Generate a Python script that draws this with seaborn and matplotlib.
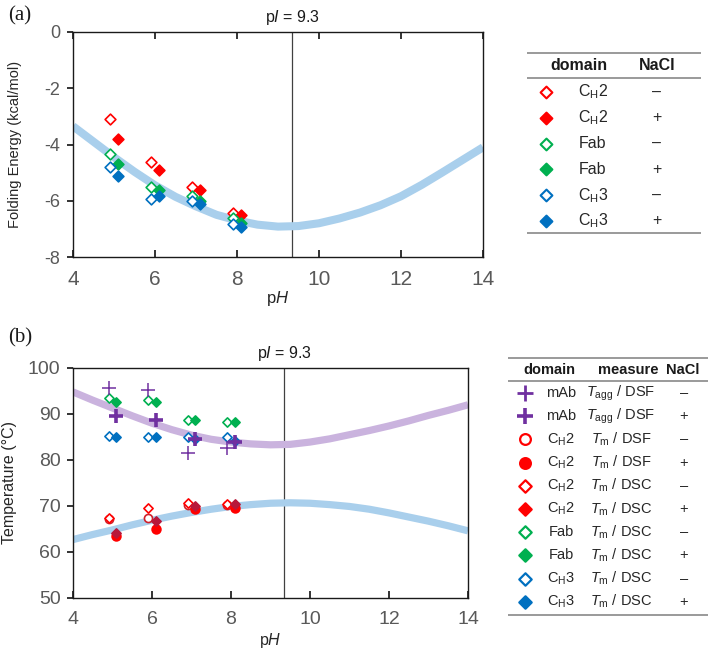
import numpy as np
import seaborn as sns
import matplotlib.pyplot as plt

# ---- data -------------------------------------------------------------
ph_minus = [4.9, 5.9, 6.9, 7.9]   # no NaCl (plotted slightly left)
ph_plus = [5.1, 6.1, 7.1, 8.1]    # with NaCl (plotted slightly right)

# (a) folding energy, kcal/mol
ch2_minus_a = [-3.1, -4.62, -5.5, -6.42]
ch2_plus_a = [-3.82, -4.92, -5.61, -6.5]
fab_minus_a = [-4.33, -5.51, -5.82, -6.62]
fab_plus_a = [-4.7, -5.61, -6.0, -6.8]
ch3_minus_a = [-4.81, -5.92, -6.02, -6.82]
ch3_plus_a = [-5.12, -5.83, -6.11, -6.94]

# model curves
curve_ph = [4, 4.5, 5, 5.5, 6, 6.5, 7, 7.5, 8, 8.5, 9, 9.5, 10, 10.5, 11,
            11.5, 12, 12.5, 13, 13.5, 14]
curve_energy = [-3.35, -3.9, -4.45, -4.97, -5.45, -5.86, -6.2, -6.5, -6.7,
                -6.85, -6.92, -6.9, -6.8, -6.63, -6.42, -6.16, -5.84, -5.44,
                -5.0, -4.55, -4.1]
curve_tagg = [94.8, 93.0, 91.3, 89.6, 88.0, 86.6, 85.4, 84.5, 83.9, 83.5,
              83.3, 83.4, 83.9, 84.6, 85.5, 86.4, 87.4, 88.5, 89.7, 90.8, 92.0]
curve_tm = [62.7, 63.8, 64.8, 65.9, 66.9, 67.8, 68.6, 69.3, 69.9, 70.3, 70.6,
            70.7, 70.6, 70.3, 69.9, 69.3, 68.5, 67.6, 66.7, 65.7, 64.6]

# (b) temperatures, deg C
tagg_minus = [95.6, 95.2, 81.6, 82.5]
tagg_plus = [89.6, 88.8, 84.5, 84.0]
ch2_dsf_minus = [67.1, 67.5, 70.2, 70.2]
ch2_dsf_plus = [63.5, 64.9, 69.3, 69.5]
ch2_dsc_minus = [67.5, 69.5, 70.7, 70.4]
ch2_dsc_plus = [64.2, 66.8, 70.0, 70.4]
fab_dsc_minus = [93.4, 93.0, 88.7, 88.3]
fab_dsc_plus = [92.5, 92.5, 88.7, 88.2]
ch3_dsc_minus = [85.2, 85.1, 85.0, 84.9]
ch3_dsc_plus = [84.9, 84.9, 84.5, 84.1]

pI = 9.35
x_ticks = [4, 6, 8, 10, 12, 14]

RED, GREEN, BLUE, PURPLE = '#ff0000', '#00b050', '#0070c0', '#7030a0'
CURVE_BLUE, CURVE_PURPLE = '#a9cfec', '#cab3de'

CH2 = 'C$_\\mathrm{H}$2'
CH3 = 'C$_\\mathrm{H}$3'
TAGG = '$\\mathit{T}_\\mathrm{agg}$ / DSF'
TM_DSF = '$\\mathit{T}_\\mathrm{m}$ / DSF'
TM_DSC = '$\\mathit{T}_\\mathrm{m}$ / DSC'

# ---- style ------------------------------------------------------------
sns.set_theme(style='ticks')
plt.rcParams['font.family'] = ['Liberation Sans', 'DejaVu Sans']
plt.rcParams['mathtext.fontset'] = 'custom'
plt.rcParams['mathtext.rm'] = 'Liberation Sans'
plt.rcParams['mathtext.it'] = 'Liberation Sans:italic'
plt.rcParams['mathtext.bf'] = 'Liberation Sans:bold'
plt.rcParams['axes.unicode_minus'] = False

W, H = 709, 650
fig = plt.figure(figsize=(W / 100, H / 100), dpi=100)


def px_axes(x0, y0, x1, y1):
    return fig.add_axes([x0 / W, 1 - y1 / H, (x1 - x0) / W, (y1 - y0) / H])


def points(ax, x, y, color, marker, filled, s, lw=1.2, z=3):
    if marker == '+':
        sns.scatterplot(x=x, y=y, ax=ax, marker='+', s=s, color=color,
                        linewidth=lw, zorder=z)
    else:
        sns.scatterplot(x=x, y=y, ax=ax, marker=marker, s=s, color=color,
                        facecolor=color if filled else 'white',
                        edgecolor=color, linewidth=lw, zorder=z)


def style_axes(ax, top_ticks, xfs, yfs):
    for sp in ax.spines.values():
        sp.set_visible(True)
        sp.set_color('#1a1a1a')
        sp.set_linewidth(1.0)
    ax.set_xlim(4, 14)
    ax.set_xticks(x_ticks)
    ax.tick_params(axis='x', direction='in', top=top_ticks, length=5,
                   labelsize=xfs, labelcolor='#595959', pad=9, color='#1a1a1a')
    ax.tick_params(axis='y', direction='out', length=4, labelsize=yfs,
                   labelcolor='#595959', pad=5, color='#1a1a1a')
    ax.axvline(pI, color='#404040', lw=0.9, zorder=1)
    ax.grid(False)


# ---- panel (a) --------------------------------------------------------
ax_a = px_axes(73, 32, 483, 257)
sns.lineplot(x=curve_ph, y=curve_energy, ax=ax_a, color=CURVE_BLUE,
             linewidth=5.8, solid_capstyle='butt', zorder=2)
for yv, col, filled, xv in [
        (ch2_minus_a, RED, False, ph_minus), (ch2_plus_a, RED, True, ph_plus),
        (fab_minus_a, GREEN, False, ph_minus), (fab_plus_a, GREEN, True, ph_plus),
        (ch3_minus_a, BLUE, False, ph_minus), (ch3_plus_a, BLUE, True, ph_plus)]:
    points(ax_a, xv, yv, col, 'D', filled, 30)
style_axes(ax_a, True, 15, 13)
ax_a.set_ylim(-8, 0)
ax_a.set_yticks([0, -2, -4, -6, -8])
ax_a.set_xlabel('p$\\mathit{H}$', fontsize=12, color='#262626')
ax_a.set_ylabel('Folding Energy (kcal/mol)', fontsize=10.5, color='#262626')
ax_a.xaxis.set_label_coords(0.5, -0.14)
ax_a.yaxis.set_label_coords(-0.125, 0.5)
ax_a.text(pI, 1.065, 'p$\\mathit{I}$ = 9.3', transform=ax_a.get_xaxis_transform(),
          ha='center', va='center', fontsize=11.5, color='#1a1a1a')

# ---- panel (b) --------------------------------------------------------
ax_b = px_axes(73, 368, 468, 598)
sns.lineplot(x=curve_ph, y=curve_tagg, ax=ax_b, color=CURVE_PURPLE,
             linewidth=5.2, solid_capstyle='butt', zorder=2)
sns.lineplot(x=curve_ph, y=curve_tm, ax=ax_b, color=CURVE_BLUE,
             linewidth=5.2, solid_capstyle='butt', zorder=2)
points(ax_b, ph_minus, ch3_dsc_minus, BLUE, 'D', False, 22)
points(ax_b, ph_plus, ch3_dsc_plus, BLUE, 'D', True, 22)
points(ax_b, ph_minus, fab_dsc_minus, GREEN, 'D', False, 22)
points(ax_b, ph_plus, fab_dsc_plus, GREEN, 'D', True, 22)
points(ax_b, ph_minus, ch2_dsf_minus, '#d0202a', 'o', False, 34)
points(ax_b, ph_plus, ch2_dsf_plus, RED, 'o', True, 40)
points(ax_b, ph_minus, ch2_dsc_minus, RED, 'D', False, 22)
points(ax_b, ph_plus, ch2_dsc_plus, '#b8183a', 'D', True, 22)
points(ax_b, ph_minus, tagg_minus, PURPLE, '+', True, 110, lw=1.1, z=4)
points(ax_b, ph_plus, tagg_plus, PURPLE, '+', True, 110, lw=2.6, z=4)
style_axes(ax_b, False, 14, 14)
ax_b.set_ylim(50, 100)
ax_b.set_yticks([50, 60, 70, 80, 90, 100])
ax_b.set_xlabel('p$\\mathit{H}$', fontsize=11.5, color='#262626')
ax_b.set_ylabel('Temperature (\u00b0C)', fontsize=11.5, color='#262626')
ax_b.xaxis.set_label_coords(0.5, -0.142)
ax_b.yaxis.set_label_coords(-0.142, 0.5)
ax_b.text(pI, 1.065, 'p$\\mathit{I}$ = 9.3', transform=ax_b.get_xaxis_transform(),
          ha='center', va='center', fontsize=11.5, color='#1a1a1a')

fig.text(8 / W, 1 - 6 / H, '(a)', family='Liberation Serif', fontsize=15,
         va='top', ha='left', color='#1a1a1a')
fig.text(8 / W, 1 - 328 / H, '(b)', family='Liberation Serif', fontsize=15,
         va='top', ha='left', color='#1a1a1a')

# ---- legend table (a) -------------------------------------------------
leg_a = px_axes(500, 40, 709, 250)
leg_a.set_xlim(500, 709)
leg_a.set_ylim(250, 40)
leg_a.axis('off')
for yy in (53, 78, 233):
    leg_a.hlines(yy, 527, 701, color='#7f7f7f', lw=1.1)
leg_a.text(579, 66, 'domain', ha='center', va='center', fontsize=11.5,
           fontweight='bold', color='#1a1a1a')
leg_a.text(657, 66, 'NaCl', ha='center', va='center', fontsize=11.5,
           fontweight='bold', color='#1a1a1a')
rows_a = [(CH2, '\u2013', RED, False), (CH2, '+', RED, True),
          ('Fab', '\u2013', GREEN, False), ('Fab', '+', GREEN, True),
          (CH3, '\u2013', BLUE, False), (CH3, '+', BLUE, True)]
for i, (dom, salt, col, filled) in enumerate(rows_a):
    yy = 92 + i * 25.8
    leg_a.scatter([546], [yy], marker='D', s=36, color=col,
                  facecolor=col if filled else 'white', edgecolor=col,
                  linewidth=1.5)
    leg_a.text(593, yy, dom, ha='center', va='center', fontsize=11.5,
               color='#262626')
    leg_a.text(657, yy, salt, ha='center', va='center', fontsize=11.5,
               color='#262626')

# ---- legend table (b) -------------------------------------------------
leg_b = px_axes(495, 340, 709, 630)
leg_b.set_xlim(495, 709)
leg_b.set_ylim(630, 340)
leg_b.axis('off')
for yy in (358, 381, 615):
    leg_b.hlines(yy, 508, 708, color='#7f7f7f', lw=1.1)
for xx, lab in ((549, 'domain'), (628, 'measure'), (683, 'NaCl')):
    leg_b.text(xx, 370, lab, ha='center', va='center', fontsize=10.5,
               fontweight='bold', color='#1a1a1a')
rows_b = [('mAb', TAGG, '\u2013', PURPLE, '+', False),
          ('mAb', TAGG, '+', PURPLE, '+', True),
          (CH2, TM_DSF, '\u2013', RED, 'o', False),
          (CH2, TM_DSF, '+', RED, 'o', True),
          (CH2, TM_DSC, '\u2013', RED, 'D', False),
          (CH2, TM_DSC, '+', RED, 'D', True),
          ('Fab', TM_DSC, '\u2013', GREEN, 'D', False),
          ('Fab', TM_DSC, '+', GREEN, 'D', True),
          (CH3, TM_DSC, '\u2013', BLUE, 'D', False),
          (CH3, TM_DSC, '+', BLUE, 'D', True)]
for i, (dom, meas, salt, col, mk, filled) in enumerate(rows_b):
    yy = 393 + i * 23.2
    if mk == '+':
        leg_b.scatter([525], [yy], marker='+', s=120, color=col,
                      linewidth=2.6 if filled else 2.0)
    else:
        leg_b.scatter([525], [yy], marker=mk, s=40 if mk == 'D' else 60,
                      facecolor=col if filled else 'white', edgecolor=col,
                      linewidth=1.6)
    leg_b.text(561, yy, dom, ha='center', va='center', fontsize=10.5,
               color='#262626')
    leg_b.text(621, yy, meas, ha='center', va='center', fontsize=10.5,
               color='#262626')
    leg_b.text(684, yy, salt, ha='center', va='center', fontsize=10.5,
               color='#262626')

fig.savefig('out.png', dpi=100)
